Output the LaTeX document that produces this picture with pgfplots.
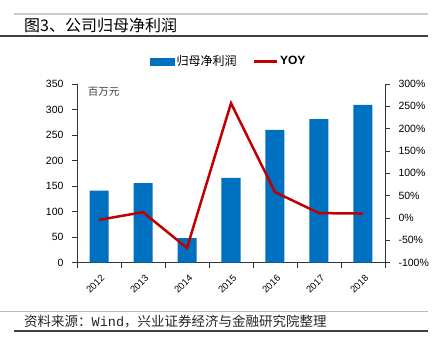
\documentclass[border=0pt]{standalone}
\usepackage{pgfplots}
\pgfplotsset{compat=1.18}
\usepackage{fontspec}
\setmainfont{Liberation Sans}
\newfontfamily\cjk{Noto Sans CJK SC}
\newfontfamily\mono{Liberation Mono}
\definecolor{barblue}{RGB}{0,112,192}
\definecolor{linered}{RGB}{192,0,0}
\begin{document}
\begin{tikzpicture}[x=1pt,y=1pt]
\path[use as bounding box, fill=white] (0,0) rectangle (438,345);
% title
\draw[gray!40, line width=1.5pt] (14,331) -- (428,331);
\draw[black!75, line width=1.1pt] (0,309) -- (428,309);
\node[anchor=west, inner sep=0pt, font=\cjk\fontsize{16}{18}\selectfont] at (24,320) {图3、公司归母净利润};
% footer
\draw[gray!55, line width=1.5pt] (0,33.3) -- (428,33.3);
\draw[black!75, line width=1.1pt] (14,14) -- (428,14);
\node[anchor=west, inner sep=0pt, font=\cjk\fontsize{13.5}{15}\selectfont, text=black!85] at (24,24) {资料来源：{\mono Wind}，兴业证券经济与金融研究院整理};

\begin{axis}[
  at={(77pt,82.3pt)}, anchor=south west, scale only axis,
  width=308pt, height=178.7pt,
  xmin=-0.5, xmax=6.5, ymin=0, ymax=350,
  ytick={0,50,...,350},
  axis x line*=bottom, axis y line*=left,
  axis line style={-, black!80, line width=0.8pt},
  xtick={0,...,6}, xticklabels={2012,2013,2014,2015,2016,2017,2018},
  major x tick style={draw=none},
  minor xtick={-0.5,0.5,...,6.5},
  tick align=outside, major tick length=5pt, minor tick length=5pt,
  tick style={black!80, line width=0.8pt},
  x tick label style={rotate=45, anchor=north east, font=\fontsize{9.5}{11}\selectfont, yshift=-2pt},
  y tick label style={font=\fontsize{10.5}{12}\selectfont, xshift=-5pt},
  /pgf/number format/assume math mode=true,
  clip=false,
]
\addplot[ybar, bar width=19pt, fill=barblue, draw=none] coordinates {
 (0,141) (1,156) (2,48) (3,166) (4,260) (5,281) (6,309)};
\node[anchor=west, inner sep=0pt, font=\cjk\fontsize{10.5}{12}\selectfont, text=black!75] at (axis description cs:0.035,0.955) {百万元};
\end{axis}

\begin{axis}[
  at={(77pt,82.3pt)}, anchor=south west, scale only axis,
  width=308pt, height=178.7pt,
  xmin=-0.5, xmax=6.5, ymin=-100, ymax=300,
  ytick={-100,-50,...,300},
  axis y line*=right, axis x line=none,
  axis line style={-, black!80, line width=0.8pt},
  tick align=outside, major tick length=5pt,
  tick style={black!80, line width=0.8pt},
  yticklabel={\pgfmathprintnumber{\tick}\%},
  y tick label style={font=\fontsize{10.5}{12}\selectfont, xshift=5pt},
  /pgf/number format/assume math mode=true,
  legend columns=2,
  legend style={at={(0.493,1.126)}, anchor=center, draw=none, fill=none,
    font=\fontsize{12}{14}\selectfont,
    /tikz/every even column/.append style={column sep=14pt}},
  legend cell align=left,
  clip=false,
]
\addlegendimage{legend image code/.code={\fill[barblue] (0pt,-3.3pt) rectangle (24pt,3.3pt);}}
\addlegendentry{\cjk 归母净利润}
\addplot[linered, line width=2.5pt,
  legend image code/.code={\draw[linered, line width=2.5pt] (0pt,0pt) -- (23pt,0pt);}]
  coordinates {(0,-4) (1,13) (2,-67) (3,257) (4,58) (5,11) (6,10)};
\addlegendentry{\textbf{YOY}}
\end{axis}
\end{tikzpicture}
\end{document}
